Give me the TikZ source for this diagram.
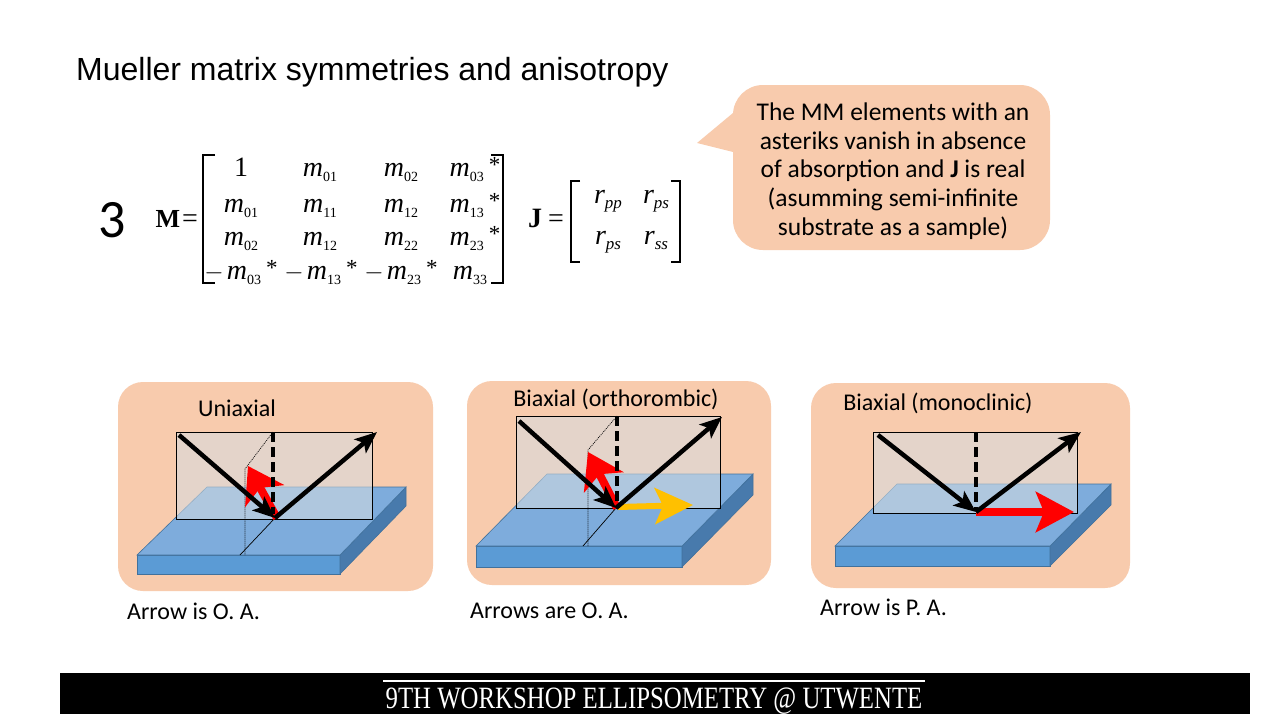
\documentclass[tikz,border=0pt]{standalone}
\usepackage{fontspec}
\setmainfont{Liberation Sans}
\newfontfamily\calfont{Carlito}
\newfontfamily\tmsfont{Liberation Serif}
\usetikzlibrary{arrows.meta}
\definecolor{peach}{RGB}{248,203,173}
\definecolor{slabtop}{RGB}{126,172,220}
\definecolor{slabfront}{RGB}{91,155,213}
\definecolor{slabside}{RGB}{72,122,172}
\definecolor{slabedge}{RGB}{65,113,156}
\definecolor{planefill}{RGB}{213,220,225}
\definecolor{yel}{RGB}{255,192,0}
\newcommand\mel[1]{{\itshape m}\raisebox{-5pt}{\fontsize{14}{14}\selectfont #1}}
\newcommand\rel[1]{{\itshape r}\raisebox{-5pt}{\fontsize{17}{17}\selectfont\itshape #1}}
\newcommand\stelem{\hspace{5pt}\raisebox{4pt}{\fontsize{23}{23}\selectfont *}}
\newcommand\negm{$-$\hspace{3pt}}
\tikzset{
  panel/.style={fill=peach, draw=none, rounded corners=25pt},
  lbl/.style={font=\calfont\fontsize{24}{28}\selectfont, inner sep=0pt},
  ent/.style={font=\tmsfont\fontsize{28}{30}\selectfont, inner sep=0pt, anchor=base},
  brk/.style={line width=1.1pt},
  slabtopst/.style={fill=slabtop, draw=slabedge, line width=0.6pt},
  slabfrontst/.style={fill=slabfront, draw=slabedge, line width=0.6pt},
  slabsidest/.style={fill=slabside, draw=slabedge, line width=0.6pt},
  plane/.style={fill=planefill, fill opacity=0.57, draw=black, line width=1pt},
  thinln/.style={line width=0.7pt, black},
  thindot/.style={line width=0.7pt, black, dash pattern=on 1pt off 1pt},
  ray/.style={line width=4.5pt, -{Stealth[length=22pt,width=18pt,inset=5pt]}},
  normalln/.style={line width=4.5pt, dash pattern=on 10pt off 5pt},
  redarr/.style={red, line width=8pt, -{Stealth[length=34pt,width=44pt,inset=9pt]}},
  redh/.style={red, line width=8pt, -{Stealth[length=38pt,width=40pt,inset=8pt]}},
  yelarr/.style={yel, line width=6pt, -{Stealth[length=38pt,width=36pt,inset=8pt]}},
}
\begin{document}
\begin{tikzpicture}[x=1pt,y=-1pt]
\useasboundingbox (0,0) rectangle (1280,720);
\fill[white] (0,0) rectangle (1280,720);

% title
\node[anchor=base west, inner sep=0pt, font=\fontsize{32}{38}\selectfont] (title) at (76,80) {Mueller matrix symmetries and anisotropy};

% number 3
\node[inner sep=0pt, font=\calfont\fontsize{54}{60}\selectfont] (three) at (112,220) {3};

% M matrix
\node[ent, font=\tmsfont\bfseries\fontsize{26}{30}\selectfont] (Mlab) at (168,227) {M};
\node[ent] (Meq) at (190,227) {=};
\draw[brk] (215,155) -- (203,155) -- (203,283) -- (215,283);
\draw[brk] (491,155) -- (503,155) -- (503,283) -- (491,283);
% row 1
\node[ent] (a11) at (241,176) {1};
\node[ent] (a12) at (320,176) {\mel{01}};
\node[ent] (a13) at (401,176) {\mel{02}};
\node[ent] (a14) at (475,176) {\mel{03}\stelem};
% row 2
\node[ent] (a21) at (241,212) {\mel{01}};
\node[ent] (a22) at (320,212) {\mel{11}};
\node[ent] (a23) at (401,212) {\mel{12}};
\node[ent] (a24) at (475,212) {\mel{13}\stelem};
% row 3
\node[ent] (a31) at (241,245) {\mel{02}};
\node[ent] (a32) at (320,245) {\mel{12}};
\node[ent] (a33) at (401,245) {\mel{22}};
\node[ent] (a34) at (475,245) {\mel{23}\stelem};
% row 4
\node[ent] (a41) at (241,279) {\negm\mel{03}\stelem};
\node[ent] (a42) at (321,279) {\negm\mel{13}\stelem};
\node[ent] (a43) at (401,279) {\negm\mel{23}\stelem};
\node[ent] (a44) at (470,279) {\mel{33}};

% J matrix
\node[ent, font=\tmsfont\bfseries\fontsize{28}{30}\selectfont] (Jlab) at (535,227) {J};
\node[ent] (Jeq) at (556,227) {=};
\draw[brk] (580,181) -- (571,181) -- (571,262) -- (580,262);
\draw[brk] (671,181) -- (680,181) -- (680,262) -- (671,262);
\node[ent] (j11) at (608,203) {\rel{pp}};
\node[ent] (j12) at (656,203) {\rel{ps}};
\node[ent] (j21) at (608,244) {\rel{ps}};
\node[ent] (j22) at (656,244) {\rel{ss}};

% callout
\fill[peach] (733,113) -- (697,143) -- (733,152) -- cycle;
\fill[peach, rounded corners=30pt] (733,85) rectangle (1050,250);
\node[align=center, inner sep=0pt, font=\calfont\fontsize{25.5}{28.6}\selectfont] (note) at (893,171)
 {The MM elements with an\\asteriks vanish in absence\\of absorption and \textbf{J} is real\\(asumming semi-infinite\\substrate as a sample)};

% ---------- panel 1 ----------
\fill[panel] (118,382) rectangle (433,591);
\node[lbl] (l1) at (237,408) {Uniaxial};
\filldraw[slabfrontst] (137,555) -- (340,555) -- (340,574) -- (137,574) -- cycle;
\filldraw[slabsidest] (340,555) -- (406,487) -- (406,506) -- (340,574) -- cycle;
\filldraw[slabtopst] (207,487) -- (406,487) -- (340,555) -- (137,555) -- cycle;
\draw[plane] (176,432) rectangle (372,519);
\coordinate (p1) at (275,518);
\coordinate (p1top) at (273,432);
\coordinate (p1a) at (245,469);
\coordinate (p1b) at (245,555);
\coordinate (p1c) at (240,555);
\draw[thindot] (p1top) -- (p1a) -- (p1b);
\draw[thinln] (p1) -- (p1c);
\coordinate (r1s) at (277,518);
\coordinate (r1e) at (248,466);
\draw[redarr] (r1s) -- (r1e);
\coordinate (n1b) at (273,514);
\draw[normalln] (p1top) -- (n1b);
\coordinate (i1) at (179,435);
\coordinate (o1) at (377,432);
\draw[ray] (i1) -- (p1);
\draw[ray] (p1) -- (o1);
\node[lbl, anchor=west] (b1) at (127,611) {Arrow is O. A.};

% ---------- panel 2 ----------
\fill[panel] (467,381) rectangle (771,585);
\node[lbl] (l2) at (616,399) {Biaxial (orthorombic)};
\filldraw[slabfrontst] (476,546) -- (682,546) -- (682,567) -- (476,567) -- cycle;
\filldraw[slabsidest] (682,546) -- (753,474) -- (753,495) -- (682,567) -- cycle;
\filldraw[slabtopst] (547,474) -- (753,474) -- (682,546) -- (476,546) -- cycle;
\draw[plane] (516,416) rectangle (720,508);
\coordinate (p2) at (616,508);
\coordinate (p2top) at (617,416);
\coordinate (p2a) at (588,450);
\coordinate (p2b) at (588,546);
\coordinate (p2c) at (583,546);
\draw[thindot] (p2top) -- (p2a) -- (p2b);
\draw[thinln] (p2) -- (p2c);
\coordinate (y2s) at (618,507);
\coordinate (y2e) at (693,505);
\draw[yelarr] (y2s) -- (y2e);
\coordinate (r2s) at (617,508);
\coordinate (r2e) at (588,452);
\draw[redarr] (r2s) -- (r2e);
\coordinate (n2b) at (617,505);
\draw[normalln] (p2top) -- (n2b);
\coordinate (i2) at (519,421);
\coordinate (o2) at (722,417);
\draw[ray] (i2) -- (p2);
\draw[ray] (p2) -- (o2);
\node[lbl, anchor=west] (b2) at (470,611) {Arrows are O. A.};

% ---------- panel 3 ----------
\fill[panel] (811,383) rectangle (1130,588);
\node[lbl] (l3) at (938,403) {Biaxial (monoclinic)};
\filldraw[slabfrontst] (835,546) -- (1050,546) -- (1050,566) -- (835,566) -- cycle;
\filldraw[slabsidest] (1050,546) -- (1111,484) -- (1111,505) -- (1050,566) -- cycle;
\filldraw[slabtopst] (897,484) -- (1111,484) -- (1050,546) -- (835,546) -- cycle;
\draw[plane] (873,432) rectangle (1077,513);
\coordinate (p3) at (976,512);
\coordinate (p3top) at (976,432);
\coordinate (r3s) at (976,512);
\coordinate (r3e) at (1074,512);
\draw[redh] (r3s) -- (r3e);
\coordinate (n3b) at (976,510);
\draw[normalln] (p3top) -- (n3b);
\coordinate (i3) at (878,435);
\coordinate (o3) at (1081,432);
\draw[ray] (i3) -- (p3);
\draw[ray] (p3) -- (o3);
\node[lbl, anchor=west] (b3) at (820,607) {Arrow is P. A.};

% footer
\fill[black] (60,673) rectangle (1250,714);
\draw[white, line width=2pt] (383,681) -- (925,681);
\node[white, inner sep=0pt, anchor=base, font=\tmsfont\fontsize{31}{34}\selectfont] (foot) at (654,708)
 {\scalebox{0.8}[1]{9TH WORKSHOP ELLIPSOMETRY @ UTWENTE}};
\end{tikzpicture}
\end{document}
